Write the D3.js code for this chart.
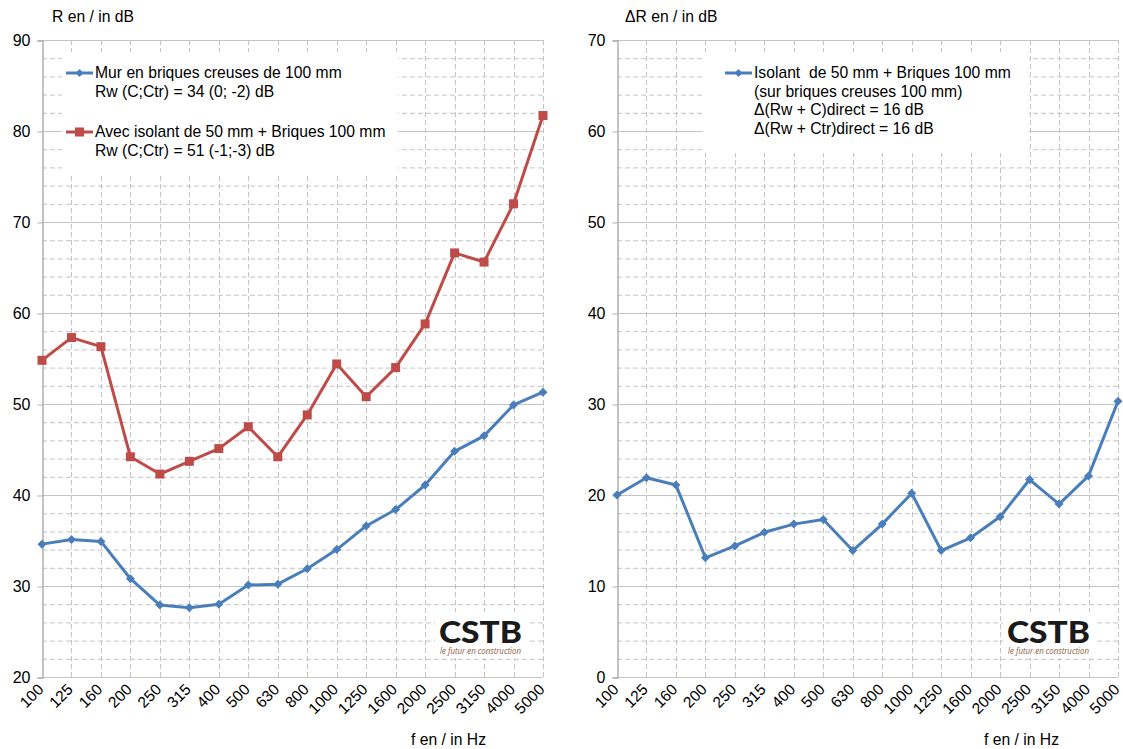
<!DOCTYPE html>
<html>
<head>
<meta charset="utf-8">
<script src="https://cdn.jsdelivr.net/npm/d3@7"></script>
<style>
  body { margin: 0; background: #fff; }
  svg { display: block; font-family: "Liberation Sans", Arial, sans-serif; }
  text { white-space: pre; }
</style>
</head>
<body>
<svg width="1123" height="749"></svg>
<script>
// Third-octave bands (Hz)
const freqs = ['100', '125', '160', '200', '250', '315', '400', '500', '630', '800',
  '1000', '1250', '1600', '2000', '2500', '3150', '4000', '5000'];

// R (dB), bare hollow-brick wall
const murBriques = [34.6, 35.1, 34.9, 30.8, 27.9, 27.6, 28.0, 30.1, 30.2, 31.9,
  34.0, 36.6, 38.4, 41.1, 44.8, 46.5, 49.9, 51.3];

// R (dB), with 50 mm insulation + 100 mm bricks
const avecIsolant = [54.8, 57.3, 56.3, 44.2, 42.3, 43.7, 45.1, 47.5, 44.2, 48.8,
  54.4, 50.8, 54.0, 58.8, 66.6, 65.6, 72.0, 81.7];

// ΔR (dB)
const deltaR = [20.0, 21.9, 21.1, 13.1, 14.4, 15.9, 16.8, 17.3, 13.9, 16.8,
  20.2, 13.9, 15.3, 17.6, 21.7, 19.0, 22.1, 30.3];

const leftLegend = [
  ['Mur en briques creuses de 100 mm', 'Rw (C;Ctr) = 34 (0; -2) dB'],
  ['Avec isolant de 50 mm + Briques 100 mm', 'Rw (C;Ctr) = 51 (-1;-3) dB']
];
const rightLegend = ['Isolant  de 50 mm + Briques 100 mm', '(sur briques creuses 100 mm)',
  'Δ(Rw + C)direct = 16 dB', 'Δ(Rw + Ctr)direct = 16 dB'];

const blue = '#4a7ebb';
const red = '#be4b48';
const gridColor = '#c4c4c4';

const svg = d3.select('svg');

function diamond(r) {
  return `M0,${-r}L${r},0L0,${r}L${-r},0Z`;
}
function square(r) {
  return `M${-r},${-r}H${r}V${r}H${-r}Z`;
}

function drawPanel(opt) {
  const g = svg.append('g');
  const x = d3.scalePoint().domain(freqs).range(opt.xRange);
  const y = d3.scaleLinear().domain(opt.yDomain).range([677, 40]);
  const [x0, x1] = opt.xRange;

  // minor grid (dashed)
  const minor = d3.range(opt.yDomain[0] + 2, opt.yDomain[1], 2).filter(v => v % 10 !== 0);
  g.append('g').selectAll('line')
    .data(minor)
    .enter().append('line')
      .attr('x1', x0).attr('x2', x1)
      .attr('y1', d => y(d) + 0.5).attr('y2', d => y(d) + 0.5)
      .attr('stroke', gridColor)
      .attr('stroke-dasharray', '5,3');

  // vertical grid (dashed)
  g.append('g').selectAll('line')
    .data(freqs.slice(1))
    .enter().append('line')
      .attr('x1', d => Math.round(x(d)) + 0.5).attr('x2', d => Math.round(x(d)) + 0.5)
      .attr('y1', y(opt.yDomain[1])).attr('y2', y(opt.yDomain[0]))
      .attr('stroke', gridColor)
      .attr('stroke-dasharray', '5,3');

  // major grid (solid)
  const major = d3.range(opt.yDomain[0], opt.yDomain[1] + 1, 10);
  g.append('g').selectAll('line')
    .data(major)
    .enter().append('line')
      .attr('x1', x0).attr('x2', x1)
      .attr('y1', d => y(d) + 0.5).attr('y2', d => y(d) + 0.5)
      .attr('stroke', gridColor);

  // y axis
  const yAxis = g.append('g')
    .attr('transform', `translate(${x0 + 0.5},0.5)`)
    .call(d3.axisLeft(y).tickValues(major).tickSize(5).tickPadding(7));
  yAxis.select('.domain').attr('stroke', '#b0b0b0').attr('stroke-width', 1.5);
  yAxis.selectAll('.tick line').attr('stroke', '#b0b0b0');
  yAxis.selectAll('.tick text')
    .attr('font-size', 16).attr('fill', '#000')
    .attr('font-family', '"Liberation Sans", Arial, sans-serif');

  // x axis
  const xAxis = g.append('g')
    .attr('transform', `translate(0,${y(opt.yDomain[0]) + 0.5})`)
    .call(d3.axisBottom(x).tickSize(0).tickPadding(0));
  xAxis.select('.domain').remove();
  xAxis.selectAll('.tick text')
    .attr('font-size', 15.5).attr('fill', '#000')
    .attr('font-family', '"Liberation Sans", Arial, sans-serif')
    .attr('text-anchor', 'end')
    .attr('dy', 0)
    .attr('transform', 'translate(2,13) rotate(-45)');

  // titles
  g.append('text')
    .attr('x', opt.titleX).attr('y', 22)
    .attr('font-size', 15.7)
    .text(opt.title);
  g.append('text')
    .attr('x', opt.fX).attr('y', 745)
    .attr('font-size', 15.7)
    .text('f en / in Hz');

  // logo
  const logo = g.append('g').attr('transform', `translate(${opt.logoX},612)`);
  logo.append('rect')
    .attr('x', -4).attr('y', 0).attr('width', 92).attr('height', 46)
    .attr('fill', '#fff');
  logo.append('text')
    .attr('x', 0).attr('y', 31)
    .attr('font-family', 'Lato, "Open Sans", sans-serif')
    .attr('font-weight', 900)
    .attr('font-size', 30)
    .attr('textLength', 83)
    .attr('lengthAdjust', 'spacingAndGlyphs')
    .attr('fill', '#1a1a1a')
    .text('CSTB');
  logo.append('text')
    .attr('x', 1).attr('y', 42)
    .attr('font-family', '"Open Sans", sans-serif')
    .attr('font-style', 'italic')
    .attr('font-size', 9)
    .attr('textLength', 81)
    .attr('lengthAdjust', 'spacingAndGlyphs')
    .attr('fill', '#8a5a3a')
    .text('le futur en construction');

  // legend box
  g.append('rect')
    .attr('x', opt.legend.x).attr('y', opt.legend.y)
    .attr('width', opt.legend.w).attr('height', opt.legend.h)
    .attr('fill', '#fff');
  opt.legend.draw(g);

  // series
  opt.series.forEach(s => {
    const line = d3.line()
      .x((d, i) => x(freqs[i]))
      .y(d => y(d));
    g.append('path')
      .datum(s.values)
      .attr('fill', 'none')
      .attr('stroke', s.color)
      .attr('stroke-width', 3)
      .attr('stroke-linejoin', 'round')
      .attr('d', line);
    g.append('g').selectAll('path')
      .data(s.values)
      .enter().append('path')
        .attr('transform', (d, i) => `translate(${x(freqs[i])},${y(d)})`)
        .attr('d', s.marker)
        .attr('fill', s.color);
  });
}

function legendEntry(g, lx, ly, color, marker, lines) {
  g.append('line')
    .attr('x1', lx).attr('x2', lx + 27)
    .attr('y1', ly).attr('y2', ly)
    .attr('stroke', color).attr('stroke-width', 3);
  g.append('path')
    .attr('transform', `translate(${lx + 13.5},${ly})`)
    .attr('d', marker)
    .attr('fill', color);
  lines.forEach((t, i) => {
    g.append('text')
      .attr('x', lx + 29).attr('y', ly + 5 + i * 18.6)
      .attr('font-size', 15.7)
      .text(t);
  });
}

drawPanel({
  xRange: [42, 543],
  yDomain: [20, 90],
  title: 'R en / in dB',
  titleX: 52,
  fX: 411,
  logoX: 439,
  legend: {
    x: 62, y: 52, w: 336, h: 121,
    draw: g => {
      legendEntry(g, 66, 73, blue, diamond(4), leftLegend[0]);
      legendEntry(g, 66, 132, red, square(4.5), leftLegend[1]);
    }
  },
  series: [
    { values: murBriques, color: blue, marker: diamond(4.5) },
    { values: avecIsolant, color: red, marker: square(4.5) }
  ]
});

drawPanel({
  xRange: [617, 1118],
  yDomain: [0, 70],
  title: 'ΔR en / in dB',
  titleX: 625,
  fX: 984,
  logoX: 1007,
  legend: {
    x: 703, y: 52, w: 326, h: 101,
    draw: g => {
      legendEntry(g, 725, 73, blue, diamond(4), rightLegend);
    }
  },
  series: [
    { values: deltaR, color: blue, marker: diamond(4.5) }
  ]
});
</script>
</body>
</html>
